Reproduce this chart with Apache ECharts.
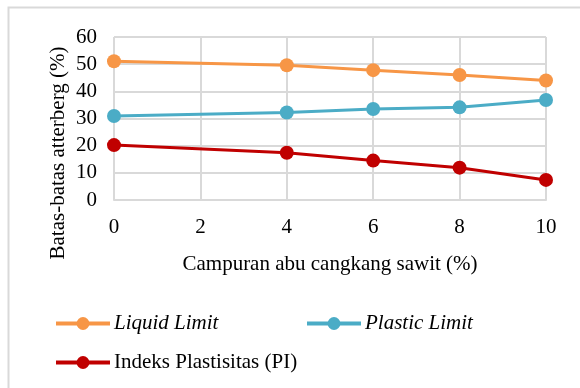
<!DOCTYPE html>
<html>
<head>
<meta charset="utf-8">
<script src="https://cdn.jsdelivr.net/npm/echarts@6/dist/echarts.min.js"></script>
<style>
  html, body { margin: 0; padding: 0; background: #ffffff; }
  #chart { width: 580px; height: 388px; }
</style>
</head>
<body>
<div id="chart"></div>
<script>
// Ash content of palm shell mix (%)
const campuran = [0, 4, 6, 8, 10];
// Atterberg limits (%)
const liquidLimit = [51.1, 49.6, 47.8, 46.0, 44.0];
const plasticLimit = [30.9, 32.2, 33.5, 34.1, 36.8];
const indeksPlastisitas = [20.2, 17.4, 14.5, 11.9, 7.4];

const seriesNames = ['Liquid Limit', 'Plastic Limit', 'Indeks Plastisitas (PI)'];
const seriesColors = ['#F79646', '#4BACC6', '#C00000'];

const FONT = '"Liberation Serif", "Times New Roman", serif';
const FS = 21;
const GRID_COLOR = '#d9d9d9';

function pairs(xs, ys) { return xs.map((x, i) => [x, ys[i]]); }

const chart = echarts.init(document.getElementById('chart'));

function lineSeries(name, color, values) {
  return {
    name: name,
    type: 'line',
    data: pairs(campuran, values),
    symbol: 'circle',
    symbolSize: 14,
    lineStyle: { color: color, width: 3 },
    itemStyle: { color: color },
    emphasis: { disabled: true },
    animation: false
  };
}

function legendFor(name, left, top) {
  return {
    data: [name],
    left: left,
    top: top,
    padding: 0,
    itemWidth: 54,
    itemHeight: 16,
    selectedMode: false,
    lineStyle: { width: 4 },
    textStyle: {
      fontFamily: FONT,
      fontSize: FS,
      color: '#000',
      padding: [0, 0, 0, -1],
      rich: {
        it: { fontFamily: FONT, fontSize: FS, fontStyle: 'italic', color: '#000' }
      }
    },
    formatter: function (n) {
      return n === 'Indeks Plastisitas (PI)' ? n : '{it|' + n + '}';
    }
  };
}

chart.setOption({
  backgroundColor: '#ffffff',
  animation: false,
  grid: { left: 114, right: 34, top: 37, bottom: 188 },
  xAxis: {
    type: 'value',
    min: 0,
    max: 10,
    interval: 2,
    name: 'Campuran abu cangkang sawit (%)',
    nameLocation: 'middle',
    nameGap: 54,
    nameTextStyle: { fontFamily: FONT, fontSize: FS, color: '#000' },
    axisLine: { show: true, lineStyle: { color: GRID_COLOR, width: 2 } },
    axisTick: { show: false },
    axisLabel: { fontFamily: FONT, fontSize: FS, color: '#000', margin: 17 },
    splitLine: { show: true, lineStyle: { color: GRID_COLOR, width: 2 } }
  },
  yAxis: {
    type: 'value',
    min: 0,
    max: 60,
    interval: 10,
    axisLine: { show: false },
    axisTick: { show: false },
    axisLabel: { fontFamily: FONT, fontSize: FS, color: '#000', margin: 17 },
    splitLine: { show: true, lineStyle: { color: GRID_COLOR, width: 2 } }
  },
  legend: [
    legendFor(seriesNames[0], 54, 313),
    legendFor(seriesNames[1], 305, 313),
    legendFor(seriesNames[2], 54, 352)
  ],
  graphic: [
    {
      type: 'rect',
      shape: { x: 8.5, y: 7.5, width: 600, height: 400 },
      style: { fill: 'none', stroke: GRID_COLOR, lineWidth: 2 },
      silent: true
    },
    {
      type: 'text',
      x: 58,
      y: 153,
      rotation: Math.PI / 2,
      style: {
        text: 'Batas-batas atterberg (%)',
        font: FS + 'px ' + FONT,
        fill: '#000',
        align: 'center',
        verticalAlign: 'middle'
      },
      silent: true
    }
  ],
  series: [
    lineSeries(seriesNames[0], seriesColors[0], liquidLimit),
    lineSeries(seriesNames[1], seriesColors[1], plasticLimit),
    lineSeries(seriesNames[2], seriesColors[2], indeksPlastisitas)
  ]
});
</script>
</body>
</html>
